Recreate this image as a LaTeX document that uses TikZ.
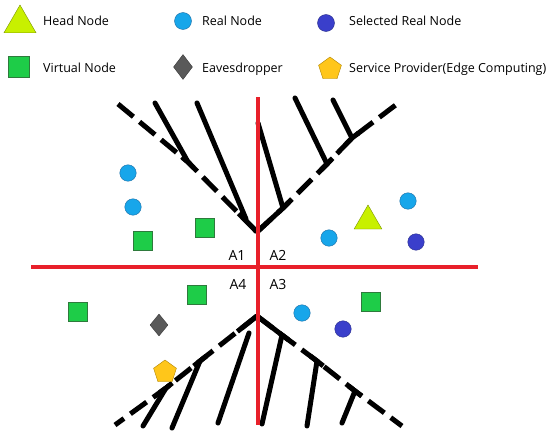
\documentclass[tikz,border=0pt]{standalone}
\usepackage{fontspec}
\setmainfont{Open Sans}
\usetikzlibrary{shapes.geometric,calc}
\definecolor{axisred}{HTML}{E8202A}
\definecolor{realblue}{HTML}{17A6EA}\definecolor{realedge}{HTML}{1C6EA6}
\definecolor{selblue}{HTML}{3A3FCB}\definecolor{seledge}{HTML}{2A2E8A}
\definecolor{virtgreen}{HTML}{1ECC48}\definecolor{virtedge}{HTML}{2E7A3C}
\definecolor{headlime}{HTML}{C8F000}\definecolor{headedge}{HTML}{7A9400}
\definecolor{eavgray}{HTML}{595959}\definecolor{eavedge}{HTML}{3A3A3A}
\definecolor{spgold}{HTML}{FFC61A}\definecolor{spedge}{HTML}{B08400}
\tikzset{every node/.style={font=\fontsize{12.5}{15}\selectfont},
  real/.style={circle,draw=realedge,fill=realblue,minimum size=16.5,inner sep=0},
  sel/.style={circle,draw=seledge,fill=selblue,minimum size=16.5,inner sep=0},
  virt/.style={rectangle,draw=virtedge,fill=virtgreen,minimum size=19,inner sep=0},
  head/.style={regular polygon,regular polygon sides=3,draw=headedge,fill=headlime,minimum size=32,inner sep=0},
  eav/.style={diamond,draw=eavedge,fill=eavgray,minimum width=18,minimum height=22,inner sep=0},
  prov/.style={regular polygon,regular polygon sides=5,draw=spedge,fill=spgold,minimum size=24,inner sep=0},
  trunk/.style={line width=5,dash pattern=on 20pt off 8pt,line join=miter},
  trunkcap/.style={line width=5,line join=miter},
  branch/.style={line width=5,line cap=round},
  axis/.style={axisred,line width=4.5},
  legtext/.style={anchor=base west,inner sep=0},
  area/.style={font=\fontsize{14}{16}\selectfont,inner sep=0}}
\begin{document}
\begin{tikzpicture}[x=1pt,y=-1pt]
\useasboundingbox (0,0) rectangle (550,439);
% legend
\node[head,minimum size=37] (lh) at (20,23.5){};\node[legtext] (th) at (43,25.5){Head Node};
\node[real,minimum size=17] (lr) at (183,21){};\node[legtext] (tr) at (202,25.5){Real Node};
\node[sel,minimum size=17] (ls) at (326,23){};\node[legtext] (ts) at (349,25.5){Selected Real Node};
\node[virt,minimum size=21] (lv) at (19,67){};\node[legtext] (tv) at (43,72){Virtual Node};
\node[eav,minimum width=19,minimum height=25] (le) at (183,67){};\node[legtext] (te) at (202,72){Eavesdropper};
\node[prov] (lp) at (330,69){};\node[legtext] (tp) at (349,72){Service Provider(Edge Computing)};
% upper funnel
\coordinate (V) at (257,232);
\coordinate (ul) at (188,162);
\draw[trunk] (118,104)--(ul)--(V);
\draw[trunkcap] ($(ul)!8pt!(118,104)$)--(ul)--($(ul)!8pt!(V)$);\draw[trunkcap] ($(V)!26pt!(ul)$)--(V);
\draw[branch] (155,103)--(ul);\draw[branch] (197,103)--(246,219);
\coordinate (ur1) at (283,208);\coordinate (ur2) at (327,164);\coordinate (ur3) at (352,138);
\draw[trunk] (V)--(ur1)--(ur2)--(ur3)--(397,104);
\draw[trunkcap] (V)--(ur1)--($(ur1)!8pt!(ur2)$);
\draw[trunkcap] ($(ur2)!8pt!(ur1)$)--(ur2)--($(ur2)!8pt!(ur3)$);
\draw[trunkcap] ($(ur3)!8pt!(ur2)$)--(ur3)--($(ur3)!8pt!(397,104)$);
\draw[branch] (258,123)--(ur1);\draw[branch] (295,98)--(ur2);\draw[branch] (333,100)--(ur3);
% lower funnel
\coordinate (P) at (257,316);
\coordinate (ll1) at (200,361);\coordinate (ll2) at (166,388);
\draw[trunk] (P)--(ll1)--(ll2)--(115,425);
\draw[trunkcap] (P)--($(P)!25pt!(ll1)$);
\draw[trunkcap] ($(ll1)!8pt!(P)$)--(ll1)--($(ll1)!8pt!(ll2)$);
\draw[trunkcap] ($(ll2)!8pt!(ll1)$)--(ll2)--($(ll2)!8pt!(115,425)$);
\draw[branch] (249,333)--(218,423);\draw[branch] (ll1)--(172,428);\draw[branch] (ll2)--(143,426);
\coordinate (lr1) at (282,335);\coordinate (lr2) at (317,361);\coordinate (lr3) at (355,391);
\draw[trunk] (P)--(lr1)--(lr2)--(lr3)--(402,426);
\draw[trunkcap] (P)--(lr1)--($(lr1)!8pt!(lr2)$);
\draw[trunkcap] ($(lr2)!8pt!(lr1)$)--(lr2)--($(lr2)!8pt!(lr3)$);
\draw[trunkcap] ($(lr3)!8pt!(lr2)$)--(lr3)--($(lr3)!8pt!(402,426)$);
\draw[branch] (lr1)--(262,424);\draw[branch] (lr2)--(307,426);\draw[branch] (lr3)--(342,423);
% axes
\coordinate (N) at (258,97);\coordinate (S) at (258,425);
\coordinate (W) at (31,267);\coordinate (E) at (478,267);
\draw[axis] (N)--(S);\draw[axis] (W)--(E);
\node[area] (a1) at (237,255){A1};\node[area] (a2) at (278,255){A2};
\node[area] (a4) at (238,284){A4};\node[area] (a3) at (278,284){A3};
% nodes
\node[real] (r1) at (128,173){};\node[real] (r2) at (133,207){};\node[real] (r3) at (329,238){};
\node[real] (r4) at (408,201){};\node[real] (r5) at (302,313){};
\node[sel] (s1) at (416,242){};\node[sel] (s2) at (343,329){};
\node[virt] (v1) at (143,241){};\node[virt] (v2) at (205,228){};\node[virt] (v3) at (197,295){};
\node[virt] (v4) at (78,312){};\node[virt] (v5) at (371,302){};
\node[head] (h1) at (368,221){};
\node[eav] (e1) at (159,325){};
\node[prov] (p1) at (165,372){};
\end{tikzpicture}
\end{document}
